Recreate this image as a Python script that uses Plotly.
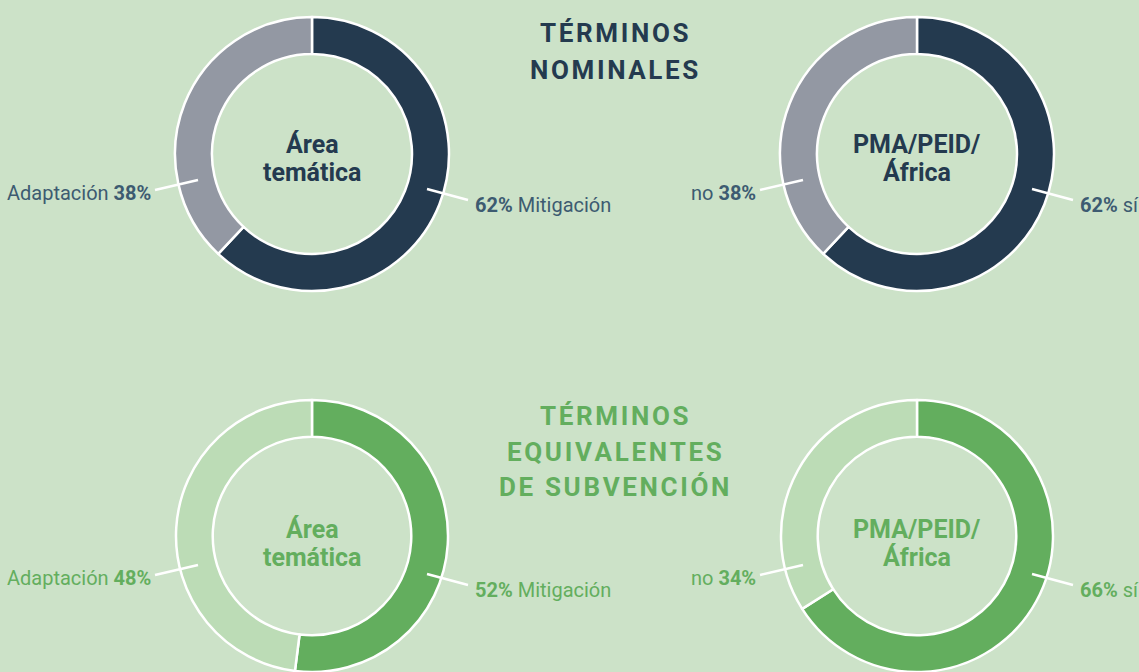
import plotly.graph_objects as go

W, H = 1139, 672

# datos
temas = ['Mitigación', 'Adaptación']
nominal_tema = [62, 38]
equiv_tema = [52, 48]
grupos = ['sí', 'no']
nominal_pma = [62, 38]
equiv_pma = [66, 34]

titulo_nom = ['TÉRMINOS', 'NOMINALES']
titulo_equiv = ['TÉRMINOS', 'EQUIVALENTES', 'DE SUBVENCIÓN']
centro_tema = ['Área', 'temática']
centro_pma = ['PMA/PEID/', 'África']

bg = '#cce2c8'
navy = '#243a4f'
gris = '#9398a3'
azul_txt = '#3d5b71'
verde = '#63ae5e'
verde_claro = '#bcdcb6'
fuente = 'Roboto, Liberation Sans, sans-serif'


def px(x):
    return x / W


def py(y):
    return 1 - y / H


def espaciar(s):
    return '\u200a'.join(s)


def texto(x, y, t, size, color, anchor='center', bold=False):
    return dict(x=px(x), y=py(y), xref='paper', yref='paper', text=t,
                showarrow=False, xanchor=anchor, yanchor='middle',
                font=dict(family=fuente, size=size, color=color,
                          weight='bold' if bold else 'normal'))


fig = go.Figure()

# centro x, centro y, radio, desplazamiento de textos (px)
donas = [
    (312, 154, 137, 0, nominal_tema, temas, [navy, gris], centro_tema, navy, azul_txt),
    (917, 154, 137, 0, nominal_pma, grupos, [navy, gris], centro_pma, navy, azul_txt),
    (312, 536, 136, 3, equiv_tema, temas, [verde, verde_claro], centro_tema, verde, verde),
    (917, 536, 136, 3, equiv_pma, grupos, [verde, verde_claro], centro_pma, verde, verde),
]

anots = []
shapes = []
for cx, cy, r, dy, vals, labs, cols, centro, col_c, col_t in donas:
    y0 = max(0, py(cy + r))
    fig.add_trace(go.Pie(
        values=vals, labels=labs, sort=False, direction='clockwise', rotation=0,
        hole=0.73, marker=dict(colors=cols, line=dict(color='white', width=2.5)),
        textinfo='none', hoverinfo='label+percent', showlegend=False,
        domain=dict(x=[px(cx - r), px(cx + r)], y=[y0, py(cy - r)]),
    ))
    # texto central
    anots.append(texto(cx, cy - 10 + dy, centro[0], 25, col_c, bold=True))
    anots.append(texto(cx, cy + 18 + dy, centro[1], 25, col_c, bold=True))
    # etiquetas
    anots.append(texto(cx + 161, cy + 51 + dy, f'<b>{vals[0]}%</b> {labs[0]}', 20, col_t, 'left'))
    anots.append(texto(cx - 159, cy + 39 + dy, f'{labs[1]} <b>{vals[1]}%</b>', 20, col_t, 'right'))
    # líneas guía
    shapes.append(dict(type='line', xref='paper', yref='paper',
                       x0=px(cx + 115), y0=py(cy + 35 + dy), x1=px(cx + 156), y1=py(cy + 46 + dy),
                       line=dict(color='white', width=2.5)))
    shapes.append(dict(type='line', xref='paper', yref='paper',
                       x0=px(cx - 157), y0=py(cy + 36 + dy), x1=px(cx - 114), y1=py(cy + 26 + dy),
                       line=dict(color='white', width=2.5)))

for i, t in enumerate(titulo_nom):
    anots.append(texto(614, 33 + 37 * i, espaciar(t), 26, navy, bold=True))
for i, t in enumerate(titulo_equiv):
    anots.append(texto(614, 416 + 35.5 * i, espaciar(t), 26, verde, bold=True))

fig.update_layout(
    width=W, height=H, margin=dict(l=0, r=0, t=0, b=0),
    paper_bgcolor=bg, plot_bgcolor=bg,
    annotations=anots, shapes=shapes,
)

fig.write_html('out.html', config={'displayModeBar': False},
               post_script="document.body.style.margin='0';")
